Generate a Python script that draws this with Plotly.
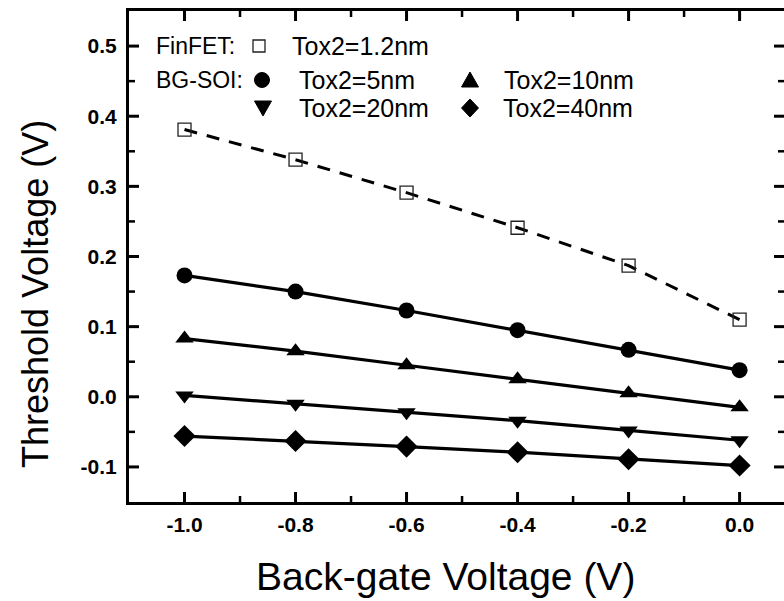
import plotly.graph_objects as go

vbg = [-1.0, -0.8, -0.6, -0.4, -0.2, 0.0]
finfet_12 = [0.381, 0.338, 0.291, 0.241, 0.187, 0.110]
bgsoi_5 = [0.173, 0.150, 0.123, 0.095, 0.067, 0.038]
bgsoi_10 = [0.083, 0.065, 0.045, 0.025, 0.005, -0.015]
bgsoi_20 = [0.002, -0.010, -0.022, -0.034, -0.048, -0.062]
bgsoi_40 = [-0.056, -0.063, -0.071, -0.079, -0.089, -0.098]

x_ticks = [-1.0, -0.8, -0.6, -0.4, -0.2, 0.0]
x_labels = ["-1.0", "-0.8", "-0.6", "-0.4", "-0.2", "0.0"]
x_minor = [-0.9, -0.7, -0.5, -0.3, -0.1]
y_ticks = [-0.1, 0.0, 0.1, 0.2, 0.3, 0.4, 0.5]
y_labels = ["-0.1", "0.0", "0.1", "0.2", "0.3", "0.4", "0.5"]
y_minor = [-0.05, 0.05, 0.15, 0.25, 0.35, 0.45]

x_title = "Back-gate Voltage (V)"
y_title = "Threshold Voltage (V)"

FONT = "Liberation Sans, Arial, sans-serif"
W, H = 784, 601
L, R, T, B = 129, 0, 11, 99
PW, PH = W - L - R, H - T - B
XR = [-1.1, 0.08]
YR = [-0.15, 0.55]
kx = (XR[1] - XR[0]) / PW   # data units per pixel
ky = (YR[1] - YR[0]) / PH

fig = go.Figure()

fig.add_trace(go.Scatter(
    x=vbg, y=finfet_12, mode="lines+markers",
    line=dict(color="black", width=3, dash="13px,10px"),
    marker=dict(symbol="square-open", size=13, color="#222", line=dict(width=1.3)),
    showlegend=False))

series = [
    (bgsoi_5, "circle", 16),
    (bgsoi_10, "triangle-up", 16),
    (bgsoi_20, "triangle-down", 16),
    (bgsoi_40, "diamond", 17),
]
for ys, sym, sz in series:
    fig.add_trace(go.Scatter(
        x=vbg, y=ys, mode="lines+markers",
        line=dict(color="black", width=3.2),
        marker=dict(symbol=sym, size=sz, color="black"),
        showlegend=False))

# inside tick marks (bottom, top, left, right) built from the tick value lists
def tick_segments(vals, ln_px):
    xs, ys = [], []
    for v in vals:
        for a, b in ((YR[0], YR[0] + ln_px * ky), (YR[1], YR[1] - ln_px * ky)):
            xs += [v, v, None]
            ys += [a, b, None]
    return xs, ys

def ytick_segments(vals, ln_px):
    xs, ys = [], []
    for v in vals:
        for a, b in ((XR[0], XR[0] + ln_px * kx), (XR[1], XR[1] - ln_px * kx)):
            xs += [a, b, None]
            ys += [v, v, None]
    return xs, ys

for (xs, ys), w in ((tick_segments(x_ticks, 10), 3), (tick_segments(x_minor, 6), 2.5),
                    (ytick_segments(y_ticks, 10), 3), (ytick_segments(y_minor, 6), 2.5)):
    fig.add_trace(go.Scatter(x=xs, y=ys, mode="lines", line=dict(color="black", width=w),
                             showlegend=False, hoverinfo="skip", cliponaxis=False))

tickfont = dict(family=FONT, size=21, color="black", weight="bold")

fig.update_layout(
    width=W, height=H,
    margin=dict(l=L, r=R, t=T, b=B, autoexpand=False),
    plot_bgcolor="white", paper_bgcolor="white",
    font=dict(family=FONT, color="black"),
    xaxis=dict(
        range=XR, tickmode="array", tickvals=x_ticks, ticktext=x_labels,
        ticks="", ticklabelstandoff=2,
        showline=True, linewidth=3, linecolor="black", mirror=True,
        showgrid=False, zeroline=False, tickfont=tickfont, automargin=False,
    ),
    yaxis=dict(
        range=YR, tickmode="array", tickvals=y_ticks, ticktext=y_labels,
        ticks="", ticklabelstandoff=5,
        showline=True, linewidth=3, linecolor="black", mirror=False,
        showgrid=False, zeroline=False, tickfont=tickfont, automargin=False,
    ),
)

def px2paper(sx, sy):
    return (sx - L) / PW, 1 - (sy - T) / PH

# axis titles
ax, ay = px2paper(445, 576)
fig.add_annotation(xref="paper", yref="paper", x=ax, y=ay, text=x_title, showarrow=False,
                   xanchor="center", yanchor="middle", font=dict(family=FONT, size=39, color="black"))
ax, ay = px2paper(35, 294)
fig.add_annotation(xref="paper", yref="paper", x=ax, y=ay, text=y_title, showarrow=False, textangle=-90,
                   xanchor="center", yanchor="middle", font=dict(family=FONT, size=36, color="black"))

# legend text
def ann(sx, sy, text, size=25):
    x, y = px2paper(sx, sy)
    fig.add_annotation(xref="paper", yref="paper", x=x, y=y, text=text, showarrow=False,
                       xanchor="left", yanchor="middle", font=dict(family=FONT, size=size, color="black"))

ann(154, 46, "FinFET:", size=23)
ann(290, 46, "Tox2=1.2nm")
ann(154, 80, "BG-SOI:", size=23)
ann(297, 80, "Tox2=5nm")
ann(502, 80, "Tox2=10nm")
ann(297, 108, "Tox2=20nm")
ann(501, 108, "Tox2=40nm")

# legend symbols (pixel-sized shapes anchored in paper coords)
def sym(sx, sy, kind):
    x, y = px2paper(sx, sy)
    base = dict(xref="paper", yref="paper", xsizemode="pixel", ysizemode="pixel",
                xanchor=x, yanchor=y, fillcolor="black", line=dict(color="black", width=1))
    if kind == "square":
        fig.add_shape(type="rect", x0=-6, x1=6, y0=-6, y1=6,
                      **{**base, "fillcolor": "white", "line": dict(color="#222", width=1.3)})
    elif kind == "circle":
        fig.add_shape(type="circle", x0=-7.5, x1=7.5, y0=-7.5, y1=7.5, **base)
    elif kind == "up":
        fig.add_shape(type="path", path="M -8.5 -7 L 8.5 -7 L 0 8 Z", **base)
    elif kind == "down":
        fig.add_shape(type="path", path="M -8.5 7 L 8.5 7 L 0 -8 Z", **base)
    elif kind == "diamond":
        fig.add_shape(type="path", path="M 0 -9 L 8.5 0 L 0 9 L -8.5 0 Z", **base)

sym(259, 46, "square")
sym(262, 80, "circle")
sym(470, 80, "up")
sym(263, 108, "down")
sym(470, 108, "diamond")

fig.write_html("out.html", config={"displayModeBar": False},
               post_script="document.body.style.margin='0';")
